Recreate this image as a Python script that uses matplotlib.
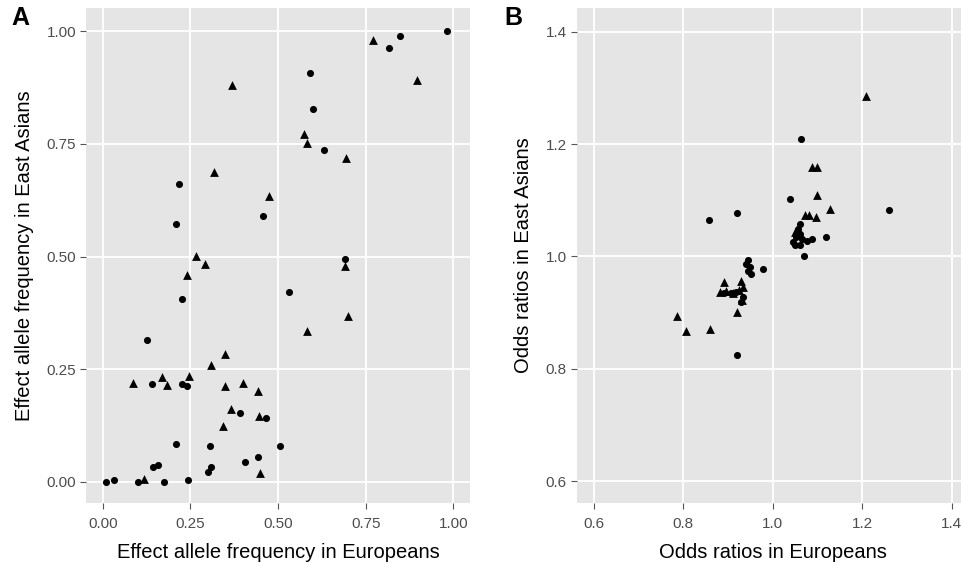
"""Fréquences alléliques et odds ratios : Européens vs Asiatiques de l'Est."""

import matplotlib

matplotlib.use("Agg")
import matplotlib.pyplot as plt
import numpy as np

# Panel A : fréquence de l'allèle effet (EUR, EAS)
a_circle_x = [0.981, 0.817, 0.849, 0.591, 0.599, 0.632, 0.217, 0.456, 0.208, 0.691,
              0.225, 0.532, 0.126, 0.142, 0.225, 0.240, 0.393, 0.467, 0.208, 0.307,
              0.507, 0.406, 0.442, 0.143, 0.159, 0.309, 0.299, 0.009, 0.033, 0.100,
              0.176, 0.242]
a_circle_y = [1.000, 0.962, 0.990, 0.907, 0.828, 0.736, 0.661, 0.590, 0.572, 0.494,
              0.406, 0.421, 0.314, 0.217, 0.217, 0.213, 0.152, 0.141, 0.084, 0.080,
              0.079, 0.044, 0.055, 0.033, 0.038, 0.033, 0.021, 0.000, 0.005, 0.000,
              0.000, 0.005]
a_tri_x = [0.770, 0.897, 0.368, 0.575, 0.583, 0.693, 0.317, 0.474, 0.267, 0.692,
           0.293, 0.241, 0.583, 0.701, 0.349, 0.308, 0.085, 0.168, 0.182, 0.247,
           0.349, 0.399, 0.443, 0.365, 0.447, 0.342, 0.450, 0.119]
a_tri_y = [0.980, 0.891, 0.880, 0.773, 0.752, 0.719, 0.687, 0.635, 0.502, 0.479,
           0.483, 0.458, 0.335, 0.368, 0.284, 0.260, 0.220, 0.232, 0.214, 0.235,
           0.213, 0.220, 0.201, 0.162, 0.147, 0.124, 0.019, 0.007]

# Panel B : odds ratios (EUR, EAS)
b_circle_x = [1.062, 1.038, 1.260, 0.919, 0.858, 1.060, 1.056, 1.061, 1.052, 1.066,
              1.046, 1.060, 1.076, 1.088, 1.049, 1.120, 1.069, 0.944, 0.940, 0.948,
              0.944, 0.952, 0.979, 0.890, 0.907, 0.918, 0.933, 0.929, 0.919]
b_circle_y = [1.209, 1.103, 1.082, 1.078, 1.064, 1.058, 1.049, 1.040, 1.034, 1.031,
              1.025, 1.021, 1.027, 1.031, 1.020, 1.034, 1.000, 0.994, 0.987, 0.981,
              0.974, 0.968, 0.978, 0.935, 0.935, 0.937, 0.928, 0.919, 0.824]
b_tri_x = [1.209, 1.088, 1.098, 1.098, 1.129, 1.071, 1.081, 1.097, 1.049, 0.890,
           0.929, 0.881, 0.896, 0.911, 0.925, 0.933, 0.932, 0.919, 0.786, 0.805,
           0.859]
b_tri_y = [1.286, 1.160, 1.159, 1.109, 1.084, 1.073, 1.073, 1.070, 1.043, 0.954,
           0.957, 0.937, 0.938, 0.934, 0.940, 0.946, 0.922, 0.901, 0.894, 0.867,
           0.870]

a_ticks = [0.0, 0.25, 0.5, 0.75, 1.0]
a_ticklabels = ["0.00", "0.25", "0.50", "0.75", "1.00"]
b_ticks = [0.6, 0.8, 1.0, 1.2, 1.4]
b_ticklabels = ["0.6", "0.8", "1.0", "1.2", "1.4"]

plt.rcParams["font.family"] = ["Liberation Sans", "DejaVu Sans"]

fig = plt.figure(figsize=(9.61, 5.66), dpi=100)
ax_a = fig.add_axes([0.0895, 0.1113, 0.3996, 0.8754])
ax_b = fig.add_axes([0.5999, 0.1113, 0.4085, 0.8754])


def style_panel(ax, ticks, labels, lim):
    ax.set_facecolor("#e5e5e5")
    for side in ax.spines.values():
        side.set_visible(False)
    ax.set_xticks(ticks)
    ax.set_yticks(ticks)
    ax.set_xticklabels(labels)
    ax.set_yticklabels(labels)
    ax.set_xlim(*lim[0])
    ax.set_ylim(*lim[1])
    ax.grid(True, color="white", linewidth=1.3)
    ax.set_axisbelow(True)
    ax.tick_params(length=4, width=0.8, color="#555555", labelcolor="#4d4d4d",
                   labelsize=11, pad=3)
    ax.tick_params(axis="x", pad=6)


ax_a.scatter(a_circle_x, a_circle_y, marker="o", s=26, color="black", linewidths=0)
ax_a.scatter(a_tri_x, a_tri_y, marker="^", s=40, color="black", linewidths=0)
style_panel(ax_a, a_ticks, a_ticklabels, [(-0.0476, 1.0476), (-0.047, 1.0526)])
ax_a.set_xlabel("Effect allele frequency in Europeans", fontsize=14.5, labelpad=9)
ax_a.set_ylabel("Effect allele frequency in East Asians", fontsize=14.5, labelpad=9)

ax_b.scatter(b_circle_x, b_circle_y, marker="o", s=26, color="black", linewidths=0)
ax_b.scatter(b_tri_x, b_tri_y, marker="^", s=40, color="black", linewidths=0)
style_panel(ax_b, b_ticks, b_ticklabels, [(0.561, 1.439), (0.561, 1.443)])
ax_b.set_xlabel("Odds ratios in Europeans", fontsize=14.5, labelpad=9)
ax_b.set_ylabel("Odds ratios in East Asians", fontsize=14.5, labelpad=9)

fig.text(0.012, 0.955, "A", fontsize=18, fontweight="bold")
fig.text(0.525, 0.955, "B", fontsize=18, fontweight="bold")

fig.savefig("out.png", dpi=100)
